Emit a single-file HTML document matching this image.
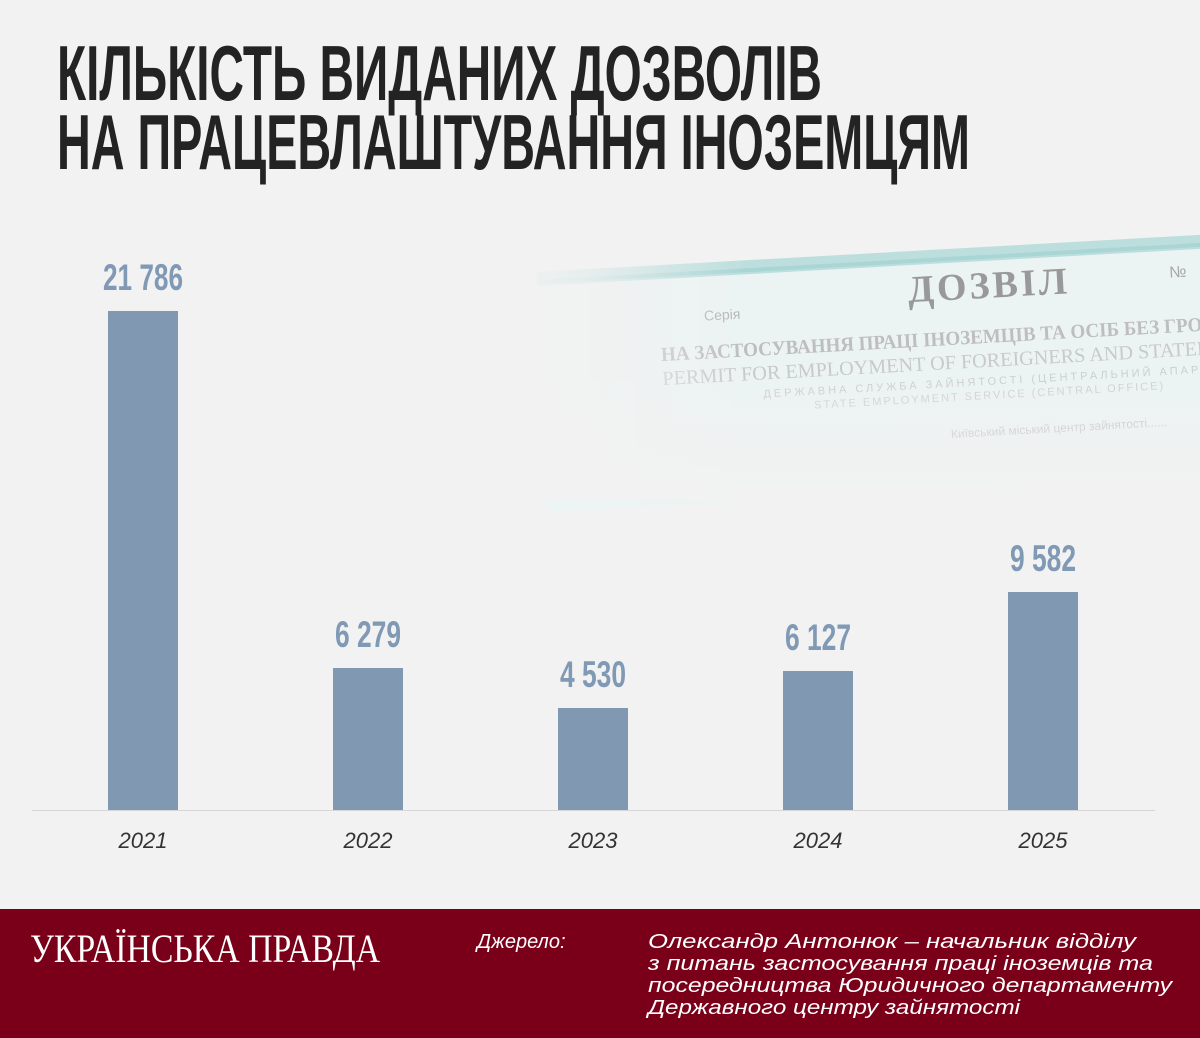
<!DOCTYPE html>
<html><head><meta charset="utf-8">
<style>
html,body{margin:0;padding:0;background:#f2f2f2;}
body{width:1200px;height:1038px;overflow:hidden;position:relative;font-family:"Liberation Sans",sans-serif;}
svg{position:absolute;left:0;top:0;}
</style></head>
<body>
<svg width="1200" height="1038" viewBox="0 0 1200 1038" xmlns="http://www.w3.org/2000/svg">
<defs>
<linearGradient id="fade" x1="0" y1="0" x2="1" y2="0">
<stop offset="0" stop-color="#f2f2f2" stop-opacity="1"/>
<stop offset="0.12" stop-color="#f2f2f2" stop-opacity="0.8"/>
<stop offset="0.35" stop-color="#f2f2f2" stop-opacity="0"/>
<stop offset="1" stop-color="#f2f2f2" stop-opacity="0"/>
</linearGradient>
<linearGradient id="fadev" x1="0" y1="0" x2="0" y2="1">
<stop offset="0" stop-color="#f2f2f2" stop-opacity="0"/>
<stop offset="0.6" stop-color="#f2f2f2" stop-opacity="0"/>
<stop offset="1" stop-color="#f2f2f2" stop-opacity="1"/>
</linearGradient>
</defs>
<rect width="1200" height="1038" fill="#f2f2f2"/>
<g transform="rotate(-3.2 860 330)" opacity="0.85">
<rect x="540" y="254" width="720" height="240" fill="#ecf4f4"/>
<rect x="540" y="254" width="720" height="14" fill="#b3dcdb"/>
<rect x="540" y="262" width="720" height="4" fill="#8fcac8" opacity="0.6"/>
<text x="910" y="305" font-family="Liberation Serif,serif" font-weight="bold" font-size="38" fill="#8a8a8a" letter-spacing="3">ДОЗВІЛ</text>
<text x="1172" y="295" font-size="16" fill="#999">№</text>
<text x="705" y="312" font-size="14" fill="#aaa">Серія</text>
<text x="660" y="350" font-family="Liberation Serif,serif" font-weight="bold" font-size="20" fill="#b5b5b5" textLength="560" lengthAdjust="spacingAndGlyphs">НА ЗАСТОСУВАННЯ ПРАЦІ ІНОЗЕМЦІВ ТА ОСІБ БЕЗ ГРОМ</text>
<text x="660" y="374" font-family="Liberation Serif,serif" font-size="20" fill="#c2c2c2" textLength="560" lengthAdjust="spacingAndGlyphs">PERMIT FOR EMPLOYMENT OF FOREIGNERS AND STATELE</text>
<text x="760" y="392" font-size="11" fill="#c8c8c8" letter-spacing="3">ДЕРЖАВНА СЛУЖБА ЗАЙНЯТОСТІ (ЦЕНТРАЛЬНИЙ АПАР</text>
<text x="810" y="406" font-size="11" fill="#cbcbcb" letter-spacing="2">STATE EMPLOYMENT SERVICE (CENTRAL OFFICE)</text>
<text x="945" y="443" font-size="12" fill="#bbb">Київський міський центр зайнятості......</text>
</g>
<rect x="500" y="200" width="700" height="300" fill="url(#fade)"/>
<rect x="500" y="200" width="700" height="300" fill="url(#fadev)"/>
<text x="57" y="100" font-family="Liberation Sans,sans-serif" font-weight="bold" font-size="78" fill="#232323" textLength="765" lengthAdjust="spacingAndGlyphs">КІЛЬКІСТЬ ВИДАНИХ ДОЗВОЛІВ</text>
<text x="57" y="169" font-family="Liberation Sans,sans-serif" font-weight="bold" font-size="78" fill="#232323" textLength="913" lengthAdjust="spacingAndGlyphs">НА ПРАЦЕВЛАШТУВАННЯ ІНОЗЕМЦЯМ</text>
<g fill="#8198b3">
<rect x="108" y="311" width="70" height="499"/>
<rect x="333" y="668" width="70" height="142"/>
<rect x="558" y="708" width="70" height="102"/>
<rect x="783" y="671" width="70" height="139"/>
<rect x="1008" y="592" width="70" height="218"/>
</g>
<line x1="32" y1="810.5" x2="1155" y2="810.5" stroke="#d6d6d6" stroke-width="1"/>
<g font-family="Liberation Sans,sans-serif" font-weight="bold" font-size="37" fill="#8099b5" text-anchor="middle">
<text x="143" y="290" textLength="80" lengthAdjust="spacingAndGlyphs">21 786</text>
<text x="368" y="647" textLength="66" lengthAdjust="spacingAndGlyphs">6 279</text>
<text x="593" y="687" textLength="66" lengthAdjust="spacingAndGlyphs">4 530</text>
<text x="818" y="650" textLength="66" lengthAdjust="spacingAndGlyphs">6 127</text>
<text x="1043" y="571" textLength="66" lengthAdjust="spacingAndGlyphs">9 582</text>
</g>
<g font-family="Liberation Sans,sans-serif" font-style="italic" font-size="22" fill="#333" text-anchor="middle">
<text x="143" y="848">2021</text>
<text x="368" y="848">2022</text>
<text x="593" y="848">2023</text>
<text x="818" y="848">2024</text>
<text x="1043" y="848">2025</text>
</g>
<rect x="0" y="909" width="1200" height="129" fill="#7a0019"/>
<text x="30" y="962" font-family="Liberation Serif,serif" font-size="40" fill="#fff" textLength="350" lengthAdjust="spacingAndGlyphs">УКРАЇНСЬКА ПРАВДА</text>
<g font-family="Liberation Sans,sans-serif" font-style="italic" font-size="20" fill="#fff">
<text x="477" y="948">Джерело:</text>
<text x="648" y="948" textLength="488" lengthAdjust="spacingAndGlyphs">Олександр Антонюк – начальник відділу</text>
<text x="648" y="970" textLength="505" lengthAdjust="spacingAndGlyphs">з питань  застосування праці іноземців та</text>
<text x="648" y="992" textLength="524" lengthAdjust="spacingAndGlyphs">посередництва Юридичного департаменту</text>
<text x="648" y="1014" textLength="372" lengthAdjust="spacingAndGlyphs">Державного центру зайнятості</text>
</g>
</svg>
</body></html>
